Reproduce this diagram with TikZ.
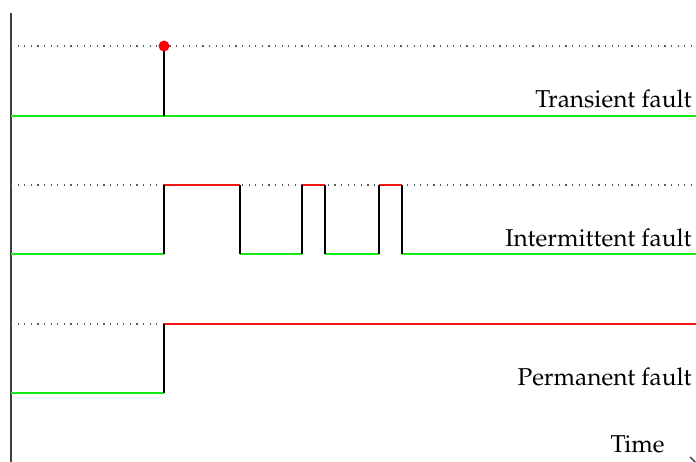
\documentclass[tikz,border=0pt]{standalone}
\usepackage[T1]{fontenc}
\usepackage{mathpazo}
\usetikzlibrary{arrows.meta}
\begin{document}
\begin{tikzpicture}[x=0.5pt,y=-0.5pt,
  ok/.style={draw={rgb,255:red,20;green,235;blue,20},line width=0.9pt},
  bad/.style={draw={rgb,255:red,240;green,20;blue,20},line width=0.9pt},
  edge/.style={draw=black,line width=0.9pt},
  ref/.style={draw=black!65,dash pattern=on 0.6pt off 2.7pt,line width=0.6pt},
  axis/.style={draw=black!75,line width=0.7pt},
  lbl/.style={anchor=base east,inner sep=0pt,font=\fontsize{12.2}{14}\selectfont}]
\useasboundingbox (0,0) rectangle (696,461);
% axes
\coordinate (yb) at (11,470);
\coordinate (yt) at (11,13);
\draw[axis] (yb) -- (yt);
\coordinate (xl) at (11,463);
\coordinate (xr) at (697,463);
\draw[axis,-{Straight Barb[length=3pt]}] (xl) -- (xr);
\node[lbl] (time) at (665,452) {Time};
% Transient fault
\coordinate (t1a) at (11,46); \coordinate (t1b) at (696,46);
\draw[ref] (t1a) -- (t1b);
\coordinate (t0a) at (11,116); \coordinate (t0b) at (696,116);
\draw[ok] (t0a) -- (t0b);
\coordinate (tsb) at (164,116); \coordinate (tst) at (164,46);
\draw[edge] (tsb) -- (tst);
\node[circle,fill=red,inner sep=0pt,minimum size=5.5pt] (dot) at (tst) {};
\node[lbl] (l1) at (692,107) {Transient fault};
% Intermittent fault
\coordinate (i1a) at (11,185); \coordinate (i1b) at (696,185);
\draw[ref] (i1a) -- (i1b);
\coordinate (i0) at (11,254);
\coordinate (a0) at (164,254); \coordinate (a1) at (164,185);
\coordinate (b1) at (240,185); \coordinate (b0) at (240,254);
\coordinate (c0) at (302,254); \coordinate (c1) at (302,185);
\coordinate (d1) at (325,185); \coordinate (d0) at (325,254);
\coordinate (e0) at (379,254); \coordinate (e1) at (379,185);
\coordinate (f1) at (402,185); \coordinate (f0) at (402,254);
\coordinate (iend) at (696,254);
\draw[ok] (i0) -- (a0);
\draw[ok] (b0) -- (c0);
\draw[ok] (d0) -- (e0);
\draw[ok] (f0) -- (iend);
\draw[bad] (a1) -- (b1);
\draw[bad] (c1) -- (d1);
\draw[bad] (e1) -- (f1);
\draw[edge] (a0) -- (a1); \draw[edge] (b1) -- (b0);
\draw[edge] (c0) -- (c1); \draw[edge] (d1) -- (d0);
\draw[edge] (e0) -- (e1); \draw[edge] (f1) -- (f0);
\node[lbl] (l2) at (692,246) {Intermittent fault};
% Permanent fault
\coordinate (p1a) at (11,324); \coordinate (p1b) at (164,324);
\draw[ref] (p1a) -- (p1b);
\coordinate (p0a) at (11,393); \coordinate (p0b) at (164,393);
\coordinate (p1c) at (696,324);
\draw[ok] (p0a) -- (p0b);
\draw[bad] (p1b) -- (p1c);
\draw[edge] (p0b) -- (p1b);
\node[lbl] (l3) at (692,385) {Permanent fault};
\end{tikzpicture}
\end{document}
